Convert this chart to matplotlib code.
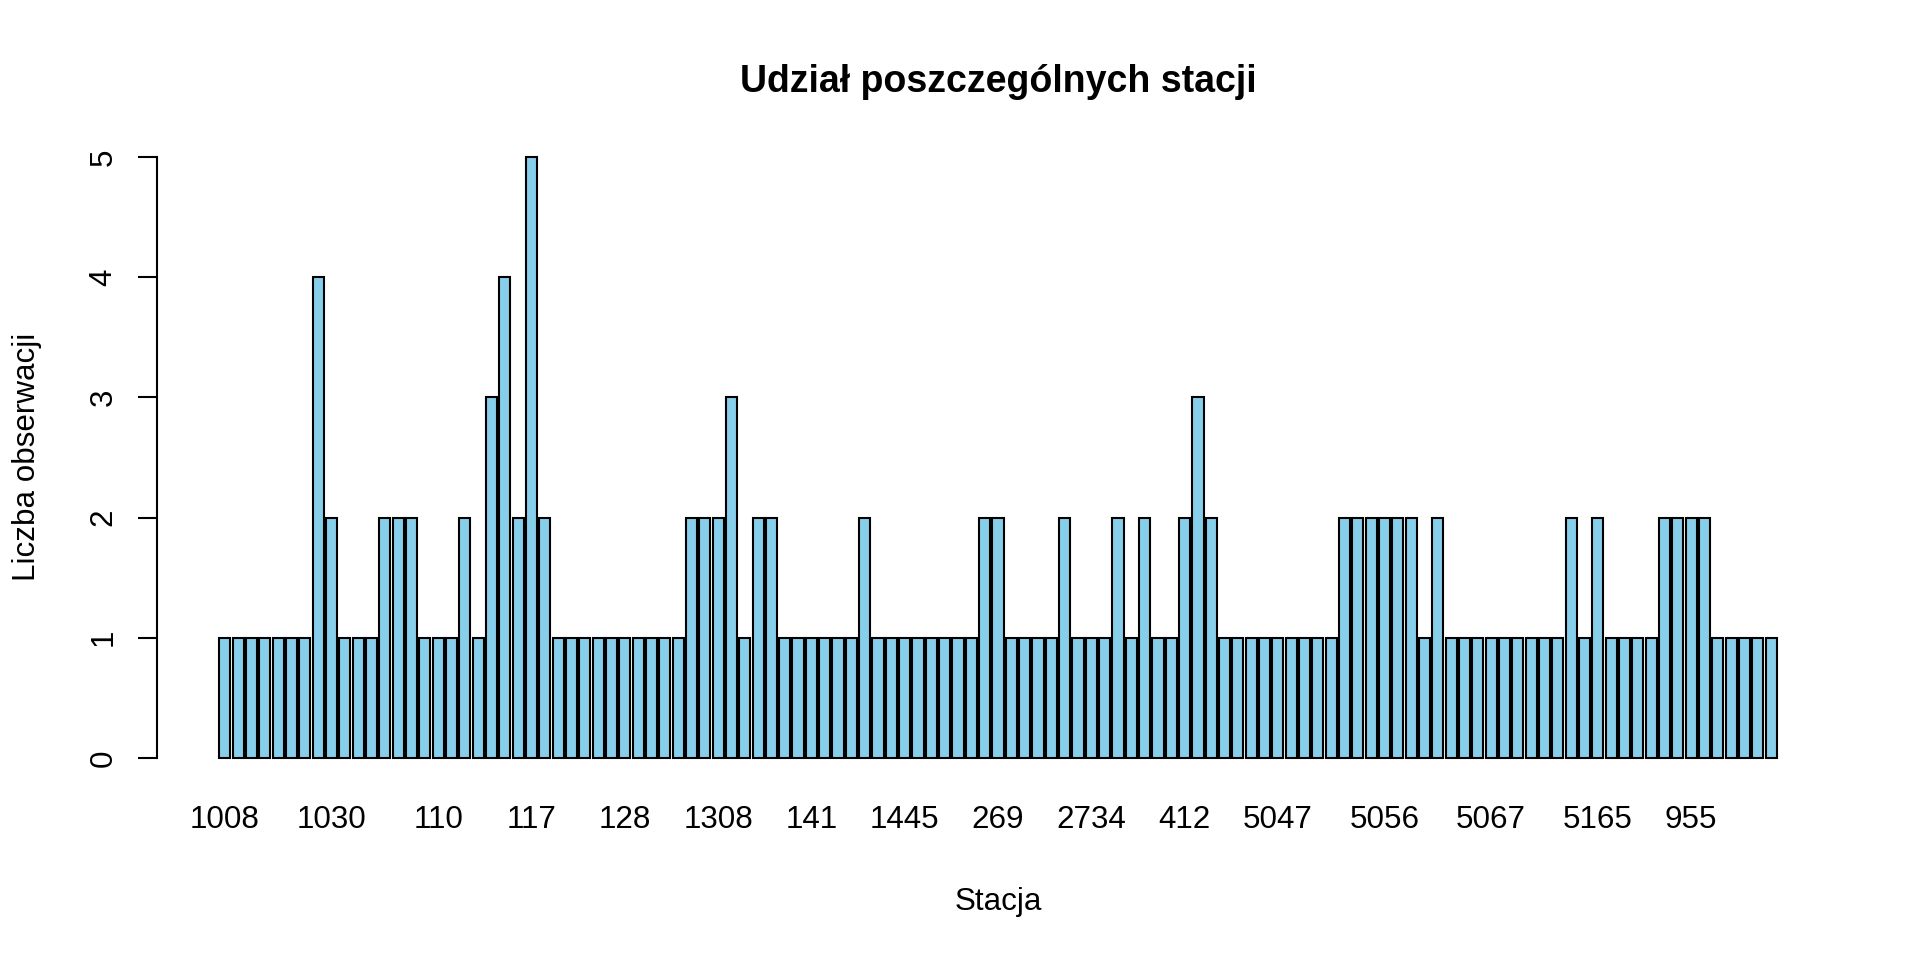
import numpy as np
import matplotlib
matplotlib.use('Agg')
import matplotlib.pyplot as plt

plt.rcParams['font.family'] = ['Liberation Sans', 'DejaVu Sans']

# counts per station, in the order of the bars (117 stations)
counts = [1, 1, 1, 1, 1, 1, 1, 4, 2, 1, 1, 1, 2, 2, 2, 1, 1, 1, 2, 1,
          3, 4, 2, 5, 2, 1, 1, 1, 1, 1, 1, 1, 1, 1, 1, 2, 2, 2, 3, 1,
          2, 2, 1, 1, 1, 1, 1, 1, 2, 1, 1, 1, 1, 1, 1, 1, 1, 2, 2, 1,
          1, 1, 1, 2, 1, 1, 1, 2, 1, 2, 1, 1, 2, 3, 2, 1, 1, 1, 1, 1,
          1, 1, 1, 1, 2, 2, 2, 2, 2, 2, 1, 2, 1, 1, 1, 1, 1, 1, 1, 1,
          1, 2, 1, 2, 1, 1, 1, 1, 2, 2, 2, 2, 1, 1, 1, 1, 1]

# only the station names that R managed to print under the bars
label_bars = [0, 8, 16, 23, 30, 37, 44, 51, 58, 65, 72, 79, 87, 95, 103, 110]
label_names = ['1008', '1030', '110', '117', '128', '1308', '141', '1445',
               '269', '2734', '412', '5047', '5056', '5067', '5165', '955']

y_ticks = [0, 1, 2, 3, 4, 5]

# R barplot geometry: width 1, space 0.2
n = len(counts)
x = 0.7 + 1.2 * np.arange(n)

fig = plt.figure(figsize=(19.2, 9.6), dpi=100)
ax = fig.add_axes([157 / 1920, 1 - 782 / 960, (1839 - 157) / 1920, (782 - 133) / 960])

ax.bar(x, counts, width=1.0, color='skyblue', edgecolor='black', linewidth=1.5)

span = x[-1] + 0.5 - (x[0] - 0.5)
ax.set_xlim(x[0] - 0.5 - 0.04 * span, x[-1] + 0.5 + 0.04 * span)
ax.set_ylim(-0.2, 5.2)

for s in ['top', 'right', 'bottom']:
    ax.spines[s].set_visible(False)
ax.spines['left'].set_bounds(0, 5)
ax.spines['left'].set_linewidth(1.5)

ax.set_yticks(y_ticks)
ax.set_yticklabels([str(t) for t in y_ticks], rotation=90, va='center')
ax.tick_params(axis='y', length=13.7, width=1.5, pad=14, labelsize=22.6)

ax.set_xticks(x[label_bars])
ax.set_xticklabels(label_names)
ax.tick_params(axis='x', length=0, pad=16.5, labelsize=22.6)

fig.text(998 / 1920, 1 - 92 / 960, 'Udział poszczególnych stacji',
         ha='center', va='baseline', fontsize=27, fontweight='bold')
fig.text(998 / 1920, 1 - 902 / 960, 'Stacja', ha='center', va='center', fontsize=22.6)
fig.text(27 / 1920, 1 - 457 / 960, 'Liczba obserwacji', ha='center', va='center',
         rotation=90, fontsize=22.6)

fig.savefig('out.png', dpi=100, facecolor='white')
